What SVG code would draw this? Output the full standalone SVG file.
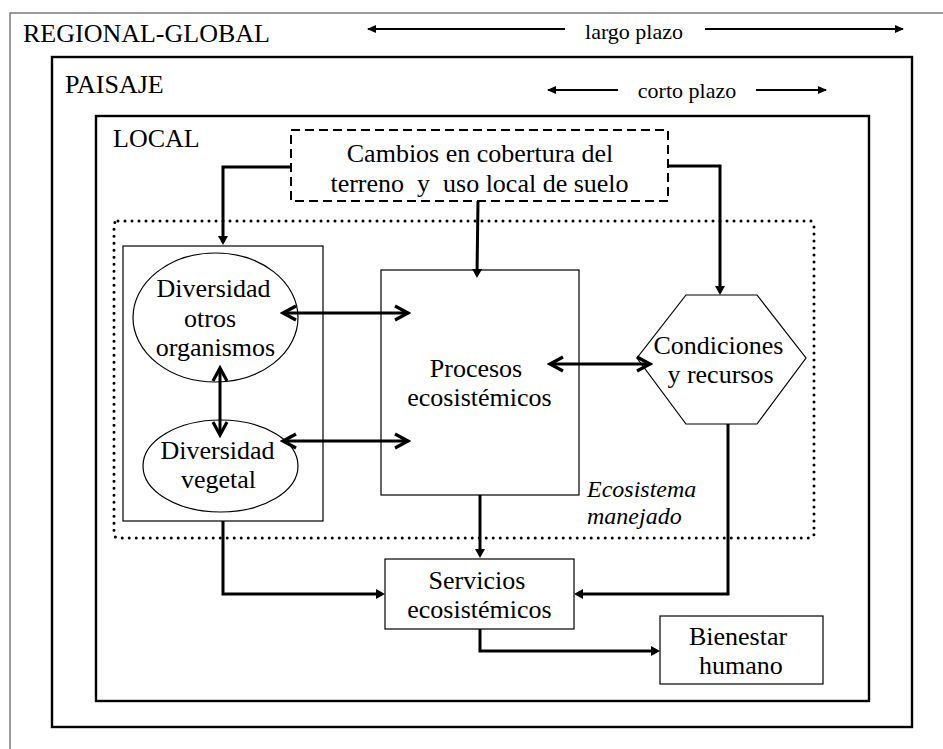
<svg xmlns="http://www.w3.org/2000/svg" width="943" height="749" viewBox="0 0 943 749">
  <style>
    text { fill: #000; }
    .node { fill: #fff; stroke: #000; stroke-width: 1.2; }
    .frame { fill: none; stroke: #000; stroke-width: 2.4; }
    .conn { fill: none; stroke: #000; stroke-width: 3; }
    .thin { fill: none; stroke: #000; stroke-width: 1.8; }
  </style>
  <defs>
    <!-- filled head for one-way connectors -->
    <marker id="tri" viewBox="0 0 9 10" refX="6" refY="5" markerWidth="9" markerHeight="10" markerUnits="userSpaceOnUse" orient="auto-start-reverse">
      <path d="M0,0 L9,5 L0,10 Z" fill="#000"/>
    </marker>
    <!-- small filled head for the time-scale arrows -->
    <marker id="tri-s" viewBox="0 0 9 8" refX="8" refY="4" markerWidth="9" markerHeight="8" markerUnits="userSpaceOnUse" orient="auto-start-reverse">
      <path d="M0,0 L9,4 L0,8 Z" fill="#000"/>
    </marker>
    <!-- open chevron head for two-way interactions -->
    <marker id="chev" viewBox="-3 -3 20 20" refX="14" refY="7" markerWidth="20" markerHeight="20" markerUnits="userSpaceOnUse" orient="auto-start-reverse">
      <path d="M1,0 L14,7 L1,14" fill="none" stroke="#000" stroke-width="3.2"/>
    </marker>
  </defs>

  <rect width="943" height="749" fill="#fff"/>

  <!-- nested scales -->
  <g id="regional-global">
    <path d="M10,749 V13 H943" fill="none" stroke="#7a7a7a" stroke-width="1.5"/>
    <text x="23" y="42" font-family="Liberation Serif" font-size="26">REGIONAL-GLOBAL</text>
    <path class="thin" d="M368,29 H565" marker-start="url(#tri-s)"/>
    <text x="634" y="39" font-family="Liberation Serif" font-size="22" text-anchor="middle">largo plazo</text>
    <path class="thin" d="M705,29 H903" marker-end="url(#tri-s)"/>
  </g>

  <g id="paisaje">
    <rect class="frame" x="52" y="57" width="860" height="670"/>
    <text x="65" y="93" font-family="Liberation Serif" font-size="26">PAISAJE</text>
    <path class="thin" d="M548,90 H618" marker-start="url(#tri-s)"/>
    <text x="687" y="98" font-family="Liberation Serif" font-size="22" text-anchor="middle">corto plazo</text>
    <path class="thin" d="M756,90 H826" marker-end="url(#tri-s)"/>
  </g>

  <g id="local">
    <rect class="frame" x="96" y="116" width="773" height="585"/>
    <text x="113" y="147" font-family="Liberation Serif" font-size="26">LOCAL</text>
  </g>

  <g id="ecosistema-manejado">
    <rect x="114" y="221" width="700" height="317" rx="4" fill="none" stroke="#000" stroke-width="3" stroke-linecap="round" stroke-dasharray="0 7"/>
    <text x="587" y="497" font-family="Liberation Serif" font-size="24" font-style="italic">Ecosistema</text>
    <text x="587" y="524" font-family="Liberation Serif" font-size="24" font-style="italic">manejado</text>
  </g>

  <g id="cambios">
    <rect x="291" y="130" width="377" height="71" fill="#fff" stroke="#000" stroke-width="2" stroke-dasharray="9 5"/>
    <text x="480" y="162" font-family="Liberation Serif" font-size="26" text-anchor="middle">Cambios en cobertura del</text>
    <text x="479.5" y="192" font-family="Liberation Serif" font-size="26" text-anchor="middle" xml:space="preserve">terreno  y  uso local de suelo</text>
  </g>

  <g id="diversidad">
    <rect class="node" x="123" y="246" width="200" height="275"/>
  </g>

  <g id="diversidad-otros">
    <ellipse class="node" cx="215.5" cy="317.5" rx="82.5" ry="64.5"/>
    <text x="213.5" y="297" font-family="Liberation Serif" font-size="26" text-anchor="middle">Diversidad</text>
    <text x="210" y="327" font-family="Liberation Serif" font-size="26" text-anchor="middle">otros</text>
    <text x="215.5" y="356" font-family="Liberation Serif" font-size="26" text-anchor="middle">organismos</text>
  </g>

  <g id="diversidad-vegetal">
    <ellipse class="node" cx="220.5" cy="466" rx="77.5" ry="46"/>
    <text x="217.5" y="459" font-family="Liberation Serif" font-size="26" text-anchor="middle">Diversidad</text>
    <text x="218.5" y="488" font-family="Liberation Serif" font-size="26" text-anchor="middle">vegetal</text>
  </g>

  <g id="procesos">
    <rect class="node" x="381" y="270" width="198" height="225"/>
    <text x="476" y="377" font-family="Liberation Serif" font-size="26" text-anchor="middle">Procesos</text>
    <text x="479.5" y="406" font-family="Liberation Serif" font-size="26" text-anchor="middle">ecosistémicos</text>
  </g>

  <g id="condiciones">
    <polygon class="node" points="686,295 757,295 806,358 757,424 686,424 637,358"/>
    <text x="718.5" y="354" font-family="Liberation Serif" font-size="26" text-anchor="middle">Condiciones</text>
    <text x="720.5" y="383" font-family="Liberation Serif" font-size="26" text-anchor="middle">y recursos</text>
  </g>

  <g id="servicios">
    <rect class="node" x="385" y="559" width="189" height="70"/>
    <text x="477" y="589" font-family="Liberation Serif" font-size="26" text-anchor="middle">Servicios</text>
    <text x="479.5" y="618" font-family="Liberation Serif" font-size="26" text-anchor="middle">ecosistémicos</text>
  </g>

  <g id="bienestar">
    <rect class="node" x="660" y="616" width="163" height="68"/>
    <text x="738" y="645" font-family="Liberation Serif" font-size="26" text-anchor="middle">Bienestar</text>
    <text x="741" y="674" font-family="Liberation Serif" font-size="26" text-anchor="middle">humano</text>
  </g>

  <!-- connectors -->
  <g id="connectors">
    <path class="conn" d="M291,167 H223 V242" marker-end="url(#tri)"/>
    <path class="conn" d="M478,201 L477,275" marker-end="url(#tri)"/>
    <path class="conn" d="M668,166 H720 V292" marker-end="url(#tri)"/>
    <path class="conn" d="M223,521 V594 H382" marker-end="url(#tri)"/>
    <path class="conn" d="M728,424 V594 H577" marker-end="url(#tri)"/>
    <path class="conn" d="M480,495 V555" marker-end="url(#tri)"/>
    <path class="conn" d="M480,629 V651 H657" marker-end="url(#tri)"/>
    <path class="conn" d="M283,313 H408" marker-start="url(#chev)" marker-end="url(#chev)"/>
    <path class="conn" d="M283,441 H408" marker-start="url(#chev)" marker-end="url(#chev)"/>
    <path class="conn" d="M220,368 V435" marker-start="url(#chev)" marker-end="url(#chev)"/>
    <path class="conn" d="M550,364 H650" marker-start="url(#chev)" marker-end="url(#chev)"/>
  </g>
</svg>
